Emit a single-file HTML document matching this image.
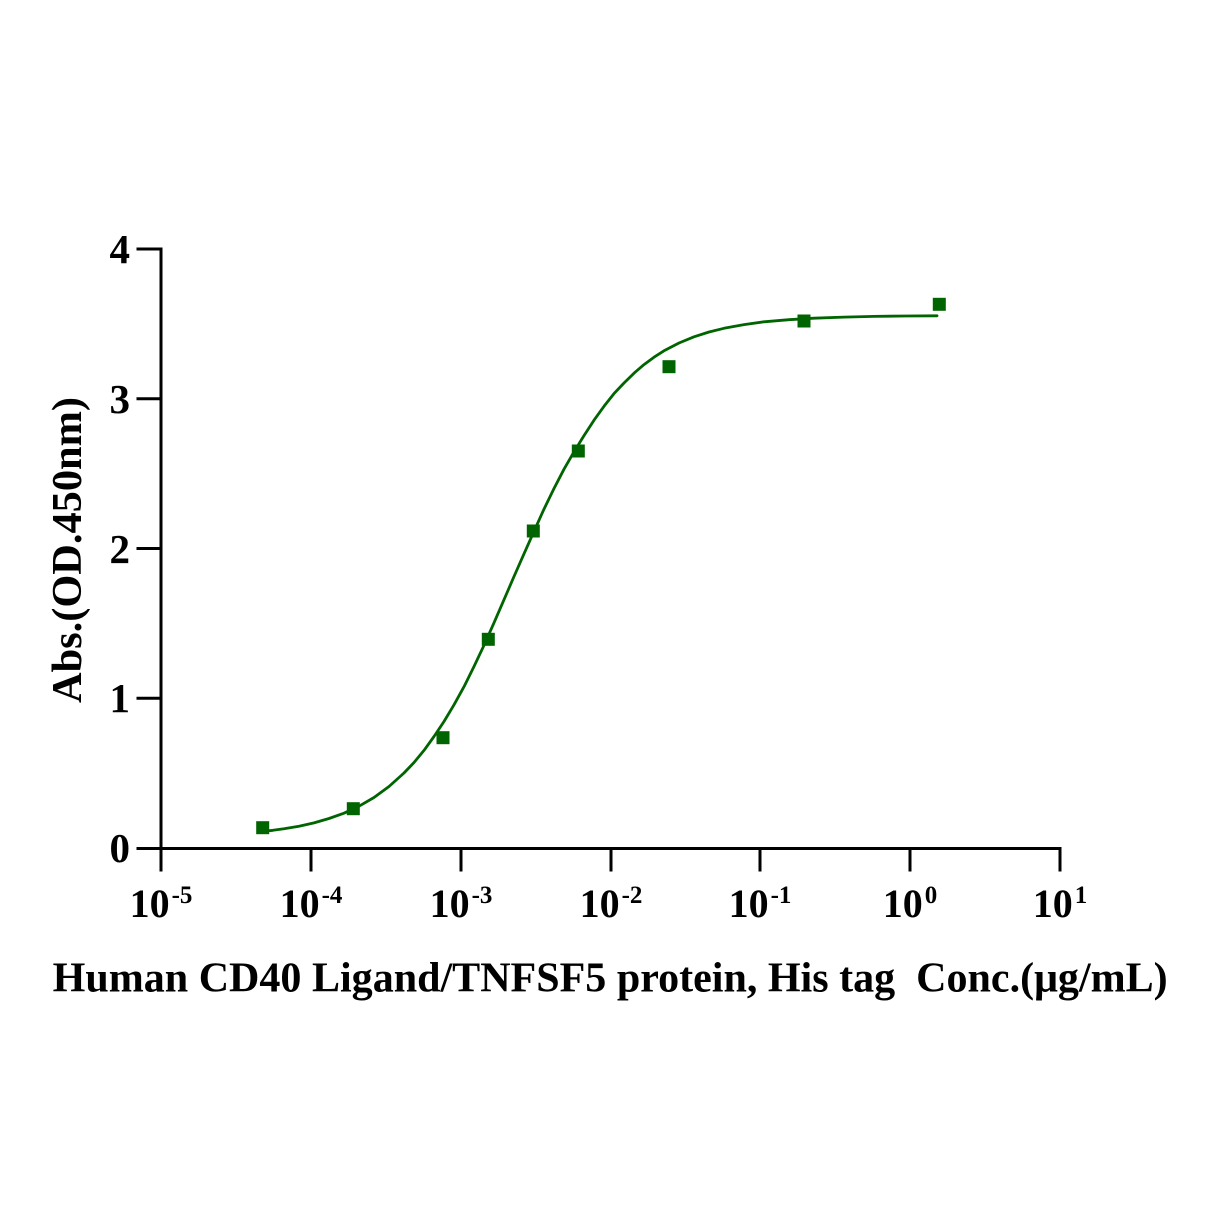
<!DOCTYPE html>
<html>
<head>
<meta charset="utf-8">
<style>
  html, body { margin: 0; padding: 0; background: #ffffff; }
  body { width: 1212px; height: 1212px; overflow: hidden; }
  svg { display: block; }
  text { font-family: "Liberation Serif", "Times New Roman", serif; font-weight: bold; fill: #000; }
</style>
</head>
<body>
<svg width="1212" height="1212" viewBox="0 0 1212 1212" xmlns="http://www.w3.org/2000/svg">
  <rect x="0" y="0" width="1212" height="1212" fill="#ffffff"/>

  <!-- Axes -->
  <g stroke="#000" stroke-width="3" fill="none" stroke-linecap="square">
    <line x1="161" y1="249" x2="161" y2="848.5"/>
    <line x1="161" y1="848.5" x2="1060" y2="848.5"/>
    <line x1="138" y1="249" x2="161" y2="249"/>
    <line x1="138" y1="398.75" x2="161" y2="398.75"/>
    <line x1="138" y1="548.5" x2="161" y2="548.5"/>
    <line x1="138" y1="698.25" x2="161" y2="698.25"/>
    <line x1="138" y1="848.5" x2="161" y2="848.5"/>
    <line x1="161" y1="848.5" x2="161" y2="870"/>
    <line x1="311" y1="848.5" x2="311" y2="870"/>
    <line x1="461" y1="848.5" x2="461" y2="870"/>
    <line x1="611" y1="848.5" x2="611" y2="870"/>
    <line x1="760" y1="848.5" x2="760" y2="870"/>
    <line x1="910" y1="848.5" x2="910" y2="870"/>
    <line x1="1060" y1="848.5" x2="1060" y2="870"/>
  </g>

  <!-- Y tick labels -->
  <g font-size="41" text-anchor="end">
    <text x="130" y="263">4</text>
    <text x="130" y="413">3</text>
    <text x="130" y="563">2</text>
    <text x="130" y="712">1</text>
    <text x="130" y="862">0</text>
  </g>

  <!-- X tick labels -->
  <g text-anchor="middle">
    <text x="161" y="917"><tspan font-size="40">10</tspan><tspan font-size="25" dx="2" dy="-14">-5</tspan></text>
    <text x="311" y="917"><tspan font-size="40">10</tspan><tspan font-size="25" dx="2" dy="-14">-4</tspan></text>
    <text x="461" y="917"><tspan font-size="40">10</tspan><tspan font-size="25" dx="2" dy="-14">-3</tspan></text>
    <text x="611" y="917"><tspan font-size="40">10</tspan><tspan font-size="25" dx="2" dy="-14">-2</tspan></text>
    <text x="760" y="917"><tspan font-size="40">10</tspan><tspan font-size="25" dx="2" dy="-14">-1</tspan></text>
    <text x="910" y="917"><tspan font-size="40">10</tspan><tspan font-size="25" dx="2" dy="-14">0</tspan></text>
    <text x="1060" y="917"><tspan font-size="40">10</tspan><tspan font-size="25" dx="2" dy="-14">1</tspan></text>
  </g>

  <!-- Axis titles -->
  <text x="52.7" y="991.5" font-size="42" textLength="1115" lengthAdjust="spacingAndGlyphs" xml:space="preserve" style="white-space:pre">Human CD40 Ligand/TNFSF5 protein, His tag&#160; Conc.(μg/mL)</text>
  <text transform="translate(81,550) rotate(-90)" x="0" y="0" font-size="42" text-anchor="middle" textLength="306" lengthAdjust="spacingAndGlyphs">Abs.(OD.450nm)</text>

  <!-- Fitted curve -->
  <polyline fill="none" stroke="#006400" stroke-width="2.8" stroke-linejoin="round" stroke-linecap="round"
    points="262,831.5 273,830.3 284,828.8 299,826.2 314,822.9 329,818.5 344,813.2 359,806.2 374,797.5 389,786.5 404,773.0 414,762.5 424,750.4 434,736.5 444,721.5 454,704.8 464,686.7 474,666.5 484,645.3 494,622.8 504,599.7 514,576.5 524,553.8 534,531.3 544,509.1 554,488.5 564,469.2 574,451.8 584,435.6 594,420.2 604,406.3 614,393.6 624,383.0 634,373.2 644,364.6 654,357.2 664,350.8 679,343.0 694,336.8 709,332.0 724,328.3 744,324.6 764,321.8 789,319.7 814,318.2 844,317.1 874,316.4 905,316.0 937,315.8"/>

  <!-- Data points -->
  <g fill="#006400">
    <rect x="256.2" y="821.2" width="13" height="13"/>
    <rect x="346.8" y="802.2" width="13" height="13"/>
    <rect x="436.5" y="731.2" width="13" height="13"/>
    <rect x="481.8" y="632.8" width="13" height="13"/>
    <rect x="526.8" y="524.5" width="13" height="13"/>
    <rect x="571.8" y="444.5" width="13" height="13"/>
    <rect x="662.5" y="360.2" width="13" height="13"/>
    <rect x="797.5" y="314.5" width="13" height="13"/>
    <rect x="932.8" y="297.8" width="13" height="13"/>
  </g>
</svg>
</body>
</html>
